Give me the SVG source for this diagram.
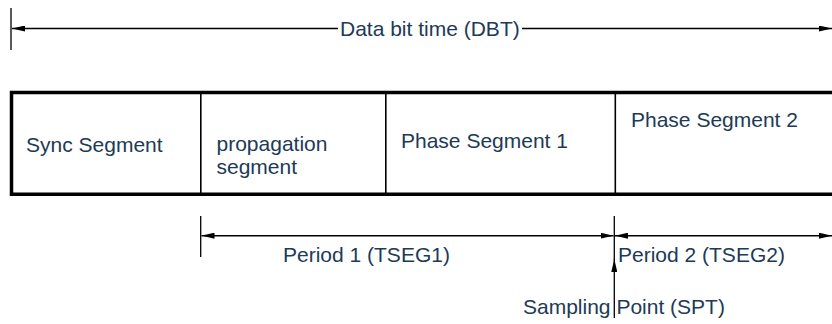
<svg xmlns="http://www.w3.org/2000/svg" width="832" height="324" viewBox="0 0 832 324">
<style>
text{font-family:"Liberation Sans",Arial,sans-serif;font-size:21px;fill:#203a56}
.ln{stroke:#000;stroke-width:1.5;fill:none}
.tick{stroke:#000;stroke-width:1.3;fill:none}
.frame{stroke:#000;stroke-width:3.5;fill:none}
.div{stroke:#000;stroke-width:1.6;fill:none}
</style>
<defs>
<marker id="ah" viewBox="0 0 13 6" refX="13" refY="3" markerWidth="13" markerHeight="6" markerUnits="userSpaceOnUse" orient="auto-start-reverse">
<path d="M0,0 L13,3 L0,6 Z" fill="#000"/>
</marker>
</defs>
<g id="frame">
<path class="frame" d="M832,92.5 H11.5 V194.3 H832"/>
</g>
<g id="sync">
<text x="26" y="152">Sync Segment</text>
</g>
<g id="prop">
<line class="div" x1="200.8" y1="92.5" x2="200.8" y2="194.3"/>
<text x="216.5" y="151">propagation</text>
<text x="216.5" y="174">segment</text>
</g>
<g id="phase1">
<line class="div" x1="385.8" y1="92.5" x2="385.8" y2="194.3"/>
<text x="401" y="148">Phase Segment 1</text>
</g>
<g id="phase2">
<line class="div" x1="615.3" y1="92.5" x2="615.3" y2="194.3"/>
<text x="631" y="127">Phase Segment 2</text>
</g>
<g id="labels">
<text x="340" y="36">Data bit time (DBT)</text>
<text x="283" y="262">Period 1 (TSEG1)</text>
<text x="618" y="262">Period 2 (TSEG2)</text>
<text x="523" y="314">Sampling Point (SPT)</text>
</g>
<g id="connectors">
<line class="tick" x1="11" y1="8" x2="11" y2="50"/>
<line class="ln" x1="338" y1="28.5" x2="12" y2="28.5" marker-end="url(#ah)"/>
<line class="ln" x1="522" y1="28.5" x2="832" y2="28.5" marker-end="url(#ah)"/>
<line class="tick" x1="200.7" y1="216" x2="200.7" y2="257"/>
<line class="ln" x1="201.5" y1="235.7" x2="613.5" y2="235.7" marker-start="url(#ah)" marker-end="url(#ah)"/>
<line class="tick" x1="614.3" y1="216" x2="614.3" y2="260"/>
<line class="ln" x1="615" y1="235.7" x2="832" y2="235.7" marker-start="url(#ah)" marker-end="url(#ah)"/>
<line class="tick" x1="614.3" y1="318" x2="614.3" y2="259" marker-end="url(#ah)"/>
</g>
</svg>
